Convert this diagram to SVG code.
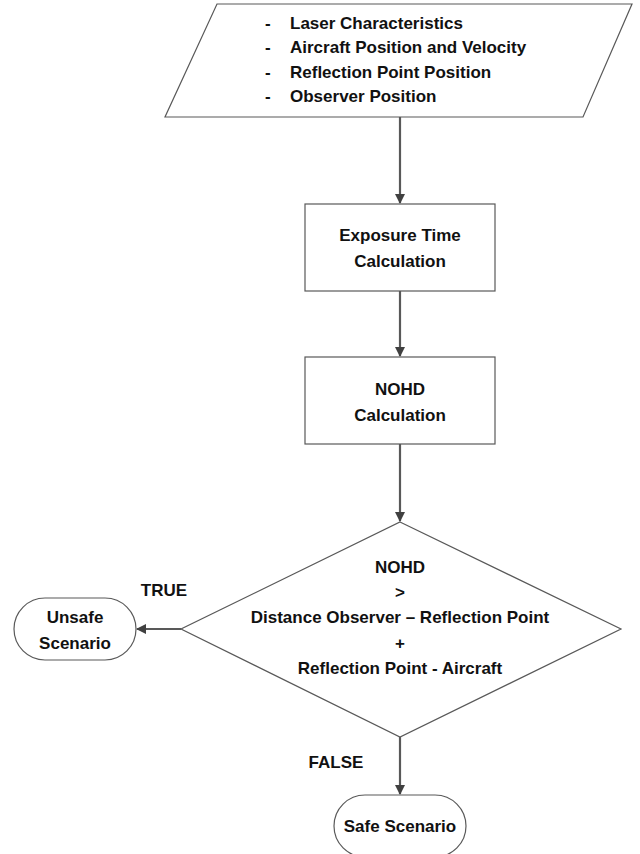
<svg xmlns="http://www.w3.org/2000/svg" width="640" height="854" viewBox="0 0 640 854">
<defs>
<marker id="arr" markerWidth="10" markerHeight="10" refX="9" refY="5" orient="auto" markerUnits="userSpaceOnUse">
<path d="M0,0 L10,5 L0,10 Z" fill="#404040"/>
</marker>
<style>
.shape{fill:#fff;stroke:#595959;stroke-width:1.2}
.conn{fill:none;stroke:#595959;stroke-width:2.2}
text{font-family:"Liberation Sans",Arial,sans-serif;font-weight:bold;font-size:17px;fill:#111}
.c{text-anchor:middle}
</style>
</defs>
<rect width="640" height="854" fill="#fff"/>
<g id="connectors">
<line class="conn" x1="400" y1="117" x2="400" y2="203" marker-end="url(#arr)"/>
<line class="conn" x1="400" y1="291" x2="400" y2="356" marker-end="url(#arr)"/>
<line class="conn" x1="400" y1="444" x2="400" y2="521" marker-end="url(#arr)"/>
<line class="conn" x1="181" y1="629" x2="137" y2="629" marker-end="url(#arr)"/>
<line class="conn" x1="400" y1="737" x2="400" y2="794" marker-end="url(#arr)"/>
<text class="c" x="164" y="596">TRUE</text>
<text class="c" x="336" y="768">FALSE</text>
</g>
<g id="inputs">
<polygon class="shape" points="217,4 632,4 583,117 165,117"/>
<text x="265" y="29">-</text><text x="290" y="29">Laser Characteristics</text>
<text x="265" y="53">-</text><text x="290" y="53">Aircraft Position and Velocity</text>
<text x="265" y="78">-</text><text x="290" y="78">Reflection Point Position</text>
<text x="265" y="102">-</text><text x="290" y="102">Observer Position</text>
</g>
<g id="exposure">
<rect class="shape" x="305" y="204" width="190" height="87"/>
<text class="c" x="400" y="241">Exposure Time</text>
<text class="c" x="400" y="267">Calculation</text>
</g>
<g id="nohd">
<rect class="shape" x="305" y="357" width="190" height="87"/>
<text class="c" x="400" y="395">NOHD</text>
<text class="c" x="400" y="421">Calculation</text>
</g>
<g id="decision">
<polygon class="shape" points="400,522 621,629 400,737 181,629"/>
<text class="c" x="400" y="573">NOHD</text>
<text class="c" x="400" y="598">&gt;</text>
<text class="c" x="400" y="623">Distance Observer – Reflection Point</text>
<text class="c" x="400" y="649">+</text>
<text class="c" x="400" y="674">Reflection Point - Aircraft</text>
</g>
<g id="unsafe">
<rect class="shape" x="14" y="598" width="122" height="62" rx="31" ry="31"/>
<text class="c" x="75" y="623">Unsafe</text>
<text class="c" x="75" y="649">Scenario</text>
</g>
<g id="safe">
<rect class="shape" x="334" y="795" width="132" height="62" rx="31" ry="31"/>
<text class="c" x="400" y="832">Safe Scenario</text>
</g>
</svg>
